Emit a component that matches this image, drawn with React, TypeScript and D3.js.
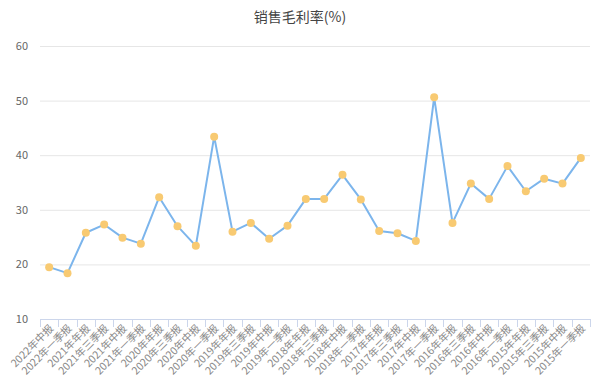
import React, { useEffect, useRef } from 'react';
import * as d3 from 'd3';

const title = '销售毛利率(%)';

const periods = [
  '2022年中报', '2022年一季报', '2021年年报', '2021年三季报', '2021年中报', '2021年一季报',
  '2020年年报', '2020年三季报', '2020年中报', '2020年一季报', '2019年年报', '2019年三季报',
  '2019年中报', '2019年一季报', '2018年年报', '2018年三季报', '2018年中报', '2018年一季报',
  '2017年年报', '2017年三季报', '2017年中报', '2017年一季报', '2016年年报', '2016年三季报',
  '2016年中报', '2016年一季报', '2015年年报', '2015年三季报', '2015年中报', '2015年一季报',
];

const margins = [
  19.5, 18.4, 25.8, 27.3, 24.9, 23.8,
  32.3, 27.0, 23.4, 43.4, 26.0, 27.6,
  24.7, 27.1, 32.0, 32.0, 36.4, 31.9,
  26.1, 25.7, 24.3, 50.6, 27.6, 34.8,
  32.0, 38.0, 33.4, 35.7, 34.8, 39.5,
];

const yTicks = [10, 20, 30, 40, 50, 60];

export default function App() {
  const svgRef = useRef<SVGSVGElement>(null);

  useEffect(() => {
    if (!svgRef.current) return;

    const width = 600;
    const height = 388;
    const left = 40;
    const right = 590;
    const top = 46;
    const bottom = 319;
    const font = "'Noto Sans CJK SC', 'Noto Sans', sans-serif";

    const svg = d3.select(svgRef.current);
    svg.selectAll('*').remove();
    svg.attr('width', width).attr('height', height);

    const x = d3.scaleBand<string>().domain(periods).range([left, right]);
    const y = d3.scaleLinear().domain([10, 60]).range([bottom, top]);

    svg.append('text')
      .attr('x', 300)
      .attr('y', 22)
      .attr('text-anchor', 'middle')
      .attr('font-family', font)
      .attr('font-size', 14)
      .attr('fill', '#444')
      .text(title);

    // grid
    svg.append('g')
      .selectAll('line')
      .data(yTicks.filter(t => t !== 10))
      .enter()
      .append('line')
      .attr('x1', left)
      .attr('x2', right)
      .attr('y1', d => y(d) + 0.5)
      .attr('y2', d => y(d) + 0.5)
      .attr('stroke', '#e6e6e6')
      .attr('stroke-width', 1);

    svg.append('g')
      .selectAll('text')
      .data(yTicks)
      .enter()
      .append('text')
      .attr('x', 28)
      .attr('y', d => y(d) + 4)
      .attr('text-anchor', 'end')
      .attr('font-family', font)
      .attr('font-size', 11)
      .attr('fill', '#666')
      .text(d => d);

    // x axis
    const xAxis = svg.append('g');
    xAxis.append('line')
      .attr('x1', left)
      .attr('x2', right)
      .attr('y1', bottom + 0.5)
      .attr('y2', bottom + 0.5)
      .attr('stroke', '#ccd6eb');

    const bounds = periods.map(p => x(p) as number).concat([right]);
    xAxis.selectAll('line.tick')
      .data(bounds)
      .enter()
      .append('line')
      .attr('class', 'tick')
      .attr('x1', d => Math.round(d) + 0.5)
      .attr('x2', d => Math.round(d) + 0.5)
      .attr('y1', bottom)
      .attr('y2', bottom + 8)
      .attr('stroke', '#ccd6eb');

    xAxis.selectAll('text')
      .data(periods)
      .enter()
      .append('text')
      .attr('transform', d => `translate(${(x(d) as number) + x.bandwidth() / 2 + 5},${bottom + 10}) rotate(-45)`)
      .attr('text-anchor', 'end')
      .attr('font-family', font)
      .attr('font-size', 10.5)
      .attr('fill', '#888')
      .text(d => d);

    const cx = (i: number) => (x(periods[i]) as number) + x.bandwidth() / 2;

    const line = d3.line<number>()
      .x((_, i) => cx(i))
      .y(d => y(d));

    svg.append('path')
      .datum(margins)
      .attr('d', line)
      .attr('fill', 'none')
      .attr('stroke', '#7cb5ec')
      .attr('stroke-width', 2)
      .attr('stroke-linejoin', 'round');

    svg.append('g')
      .selectAll('circle')
      .data(margins)
      .enter()
      .append('circle')
      .attr('cx', (_, i) => cx(i))
      .attr('cy', d => y(d))
      .attr('r', 4)
      .attr('fill', '#f8ca72');
  }, []);

  return <svg ref={svgRef} style={{ position: 'absolute', left: 0, top: 0 }}></svg>;
}
